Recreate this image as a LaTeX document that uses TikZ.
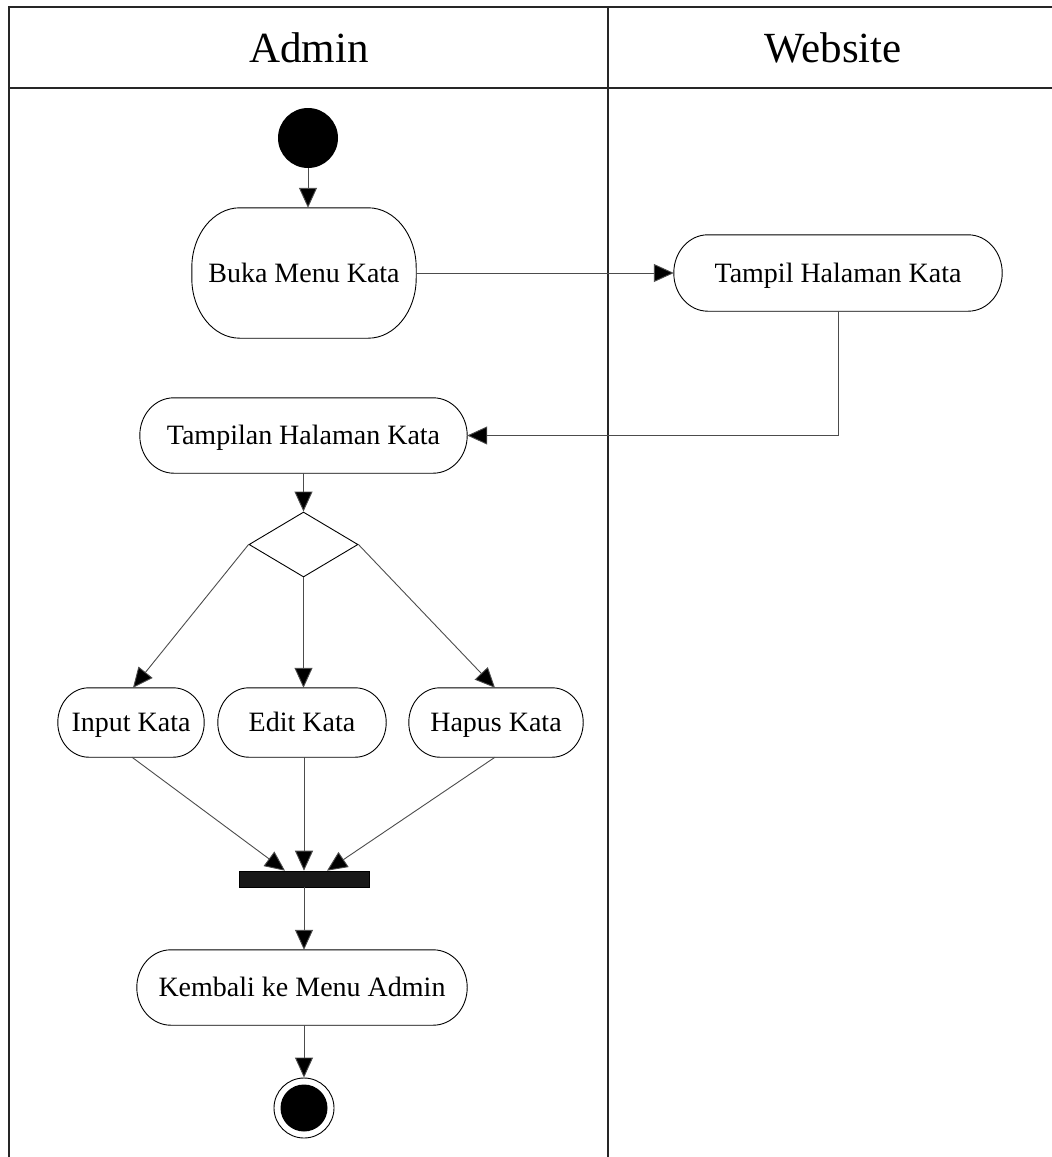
\documentclass[tikz,border=0pt]{standalone}
\usepackage{fontspec}
\setmainfont{Liberation Serif}
\usetikzlibrary{arrows.meta,shapes.geometric,calc}

\tikzset{
  lane/.style={line width=1.4pt, draw=black!85},
  action/.style={inner sep=0pt, minimum height=75pt, text height=18pt, text depth=0pt,
    font=\fontsize{28}{34}\selectfont},
  boxline/.style={draw=black, line width=0.9pt},
  flow/.style={line width=0.9pt, draw=black!70, -{Triangle[length=20pt,width=18pt,fill=black]}},
  lanetitle/.style={font=\fontsize{43}{50}\selectfont, inner sep=0pt}
}

% outline of an action node with elliptical corners: node, x radius, y radius
\newcommand\actbox[3]{%
  \draw[boxline] ([xshift=#2]#1.north west) -- ([xshift=-#2]#1.north east)
    arc[start angle=90, end angle=0, x radius=#2, y radius=#3]
    -- ([yshift=#3]#1.south east)
    arc[start angle=0, end angle=-90, x radius=#2, y radius=#3]
    -- ([xshift=#2]#1.south west)
    arc[start angle=270, end angle=180, x radius=#2, y radius=#3]
    -- ([yshift=-#3]#1.north west)
    arc[start angle=180, end angle=90, x radius=#2, y radius=#3] -- cycle;}

\begin{document}
\begin{tikzpicture}[x=1pt, y=-1pt]
  \useasboundingbox (0,0) rectangle (1052,1157);

  % swimlane frame
  \draw[lane] (1052,7) -- (9,7) -- (9,1157);
  \draw[lane] (9,88) -- (1052,88);
  \draw[lane] (608,7) -- (608,1157);
  \node[lanetitle] (tAdmin) at (309,48) {Admin};
  \node[lanetitle] (tWeb) at (833,48) {Website};

  % activities
  \node[circle, fill=black, minimum size=60pt, inner sep=0pt] (start) at (308,138) {};
  \node[action, minimum width=224pt, minimum height=130pt] (buka) at (304,273) {Buka Menu Kata};
  \node[action, minimum width=328pt, minimum height=76pt] (tampil) at (838,273) {Tampil Halaman Kata};
  \node[action, minimum width=327pt] (tampilan) at (303.5,435.5) {Tampilan Halaman Kata};
  \node[diamond, draw=black, line width=0.9pt, inner sep=0pt, shape aspect=1.68,
        minimum width=109pt, minimum height=65pt] (dec) at (303.5,544.5) {};
  \node[action, minimum width=146pt, minimum height=69pt] (input) at (131,722.5) {Input Kata};
  \node[action, minimum width=168pt, minimum height=69pt] (edit) at (302,722.5) {Edit Kata};
  \node[action, minimum width=174pt, minimum height=69pt] (hapus) at (496,722.5) {Hapus Kata};
  \node[fill=black!90, draw=black, line width=0.6pt, minimum width=130pt, minimum height=16pt, inner sep=0pt] (bar) at (304,879) {};
  \node[action, minimum width=330pt] (kembali) at (302,987.5) {Kembali ke Menu Admin};
  \node[circle, draw=black, line width=0.9pt, minimum size=60pt, inner sep=0pt] (end) at (304,1108) {};
  \node[circle, fill=black, minimum size=47pt, inner sep=0pt] (endin) at (end) {};

  % action outlines
  \actbox{buka}{48pt}{60pt}
  \actbox{tampil}{34pt}{38pt}
  \actbox{tampilan}{34pt}{37.5pt}
  \actbox{input}{31pt}{34.5pt}
  \actbox{edit}{31pt}{34.5pt}
  \actbox{hapus}{31pt}{34.5pt}
  \actbox{kembali}{34pt}{37.5pt}

  % join targets on the bar
  \coordinate (joinL) at ($(bar.north)+(-19,0)$);
  \coordinate (joinR) at ($(bar.north)+(23,0)$);

  % transitions
  \draw[flow] (start.south) -- (start.south |- buka.north);
  \draw[flow] (buka.east) -- (tampil.west);
  \draw[flow] (tampil.south) |- (tampilan.east);
  \draw[flow] (tampilan.south) -- (tampilan.south |- dec.north);
  \draw[flow] (dec.west) -- ($(input.north)+(2,0)$);
  \draw[flow] (dec.south) -- (dec.south |- edit.north);
  \draw[flow] (dec.east) -- ($(hapus.north)+(-1,0)$);
  \draw[flow] ($(input.south)+(1,0)$) -- (joinL);
  \draw[flow] (edit.south -| bar.north) -- (bar.north);
  \draw[flow] ($(hapus.south)+(-1,0)$) -- (joinR);
  \draw[flow] (bar.south) -- (bar.south |- kembali.north);
  \draw[flow] (kembali.south -| end.north) -- (end.north);
\end{tikzpicture}
\end{document}
